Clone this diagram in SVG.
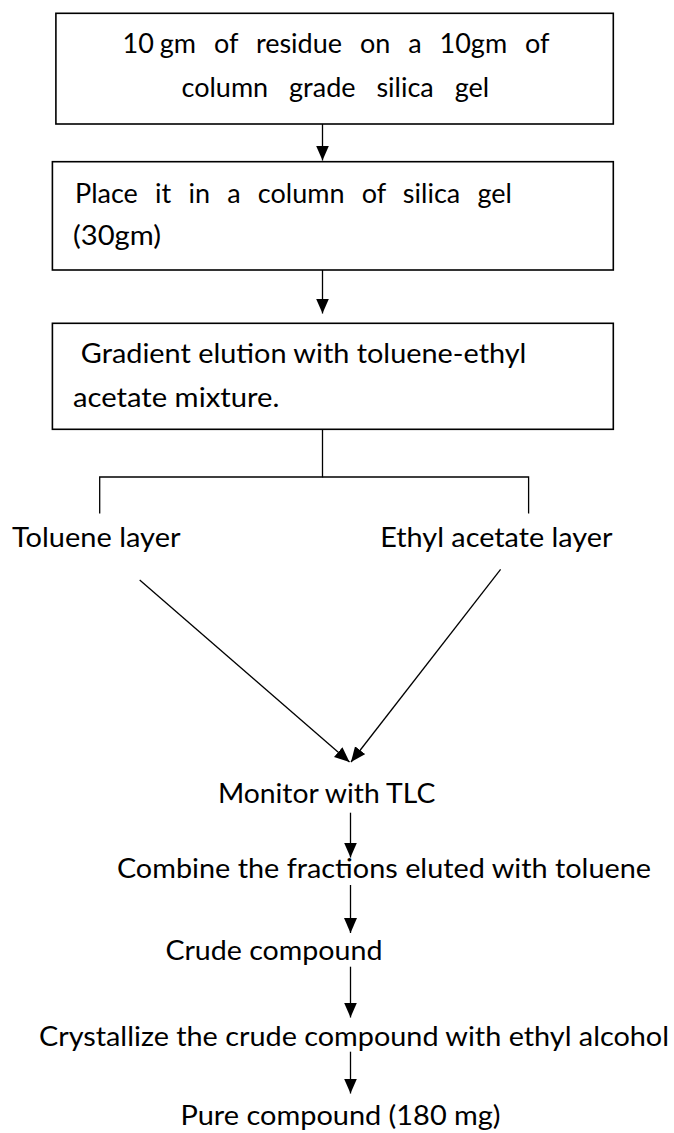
<svg xmlns="http://www.w3.org/2000/svg" width="674" height="1133" viewBox="0 0 674 1133">
<style>
  .box { fill: #ffffff; stroke: #000000; stroke-width: 1.6; }
  .t { font-family: Lato, "Open Sans", "Liberation Sans", sans-serif; font-size: 26px; fill: #000000; }
  .j { font-size: 27px; }
  .ln { stroke: #000000; stroke-width: 1.3; fill: none; }
  .arr { stroke: #000000; stroke-width: 1.3; fill: none; marker-end: url(#ah); }
</style>
<defs>
  <marker id="ah" markerUnits="userSpaceOnUse" markerWidth="16" markerHeight="14" refX="15" refY="6.5" orient="auto">
    <path d="M0,0 L15,6.5 L0,13 z" fill="#000000"/>
  </marker>
</defs>
<rect width="674" height="1133" fill="#ffffff"/>

<g id="connectors">
  <line class="arr" x1="322.5" y1="124" x2="322.5" y2="160.5"/>
  <line class="arr" x1="322.5" y1="270" x2="322.5" y2="313.5"/>
  <polyline class="ln" points="322.5,429.5 322.5,477 99.7,477 99.7,513.5"/>
  <polyline class="ln" points="322.5,477 528.6,477 528.6,513.5"/>
  <line class="arr" x1="139.7" y1="580" x2="349.5" y2="762"/>
  <line class="arr" x1="500.6" y1="569.3" x2="351" y2="762"/>
  <line class="arr" x1="350.5" y1="812.7" x2="350.5" y2="857.5"/>
  <line class="arr" x1="350.5" y1="885" x2="350.5" y2="933"/>
  <line class="arr" x1="350.5" y1="966.7" x2="350.5" y2="1017.5"/>
  <line class="arr" x1="350.5" y1="1051.7" x2="350.5" y2="1093.5"/>
</g>

<g id="box1">
  <rect class="box" x="55.9" y="13.3" width="557.4" height="110.7"/>
  <text class="t j" x="122.5" y="53.3" word-spacing="11">10<tspan dx="6">gm of residue on a 10gm of</tspan></text>
  <text class="t j" x="181.5" y="96.7" word-spacing="14">column grade silica gel</text>
</g>

<g id="box2">
  <rect class="box" x="52.4" y="161.7" width="560.9" height="108.3"/>
  <text class="t j" x="75" y="203.3" word-spacing="10.3">Place it in a column of silica gel</text>
  <text class="t" x="73" y="245" textLength="88" lengthAdjust="spacingAndGlyphs">(30gm)</text>
</g>

<g id="box3">
  <rect class="box" x="52.4" y="323.3" width="560.9" height="106"/>
  <text class="t" x="80.8" y="363.3" textLength="445.6" lengthAdjust="spacingAndGlyphs">Gradient elution with toluene-ethyl</text>
  <text class="t" x="73" y="406.7" textLength="206.3" lengthAdjust="spacingAndGlyphs">acetate mixture.</text>
</g>

<g id="toluene">
  <text class="t" x="12" y="546.7" textLength="168.5" lengthAdjust="spacingAndGlyphs">Toluene layer</text>
</g>

<g id="ethyl">
  <text class="t" x="380.3" y="546.7" textLength="232.1" lengthAdjust="spacingAndGlyphs">Ethyl acetate layer</text>
</g>

<g id="monitor">
  <text class="t" x="217.9" y="802.7" textLength="217.4" lengthAdjust="spacingAndGlyphs">Monitor with TLC</text>
</g>

<g id="combine">
  <text class="t" x="116.9" y="878.3" textLength="534.1" lengthAdjust="spacingAndGlyphs">Combine the fractions eluted with toluene</text>
</g>

<g id="crude">
  <text class="t" x="165.4" y="960" textLength="217.1" lengthAdjust="spacingAndGlyphs">Crude compound</text>
</g>

<g id="crystallize">
  <text class="t" x="39" y="1045.7" textLength="630" lengthAdjust="spacingAndGlyphs">Crystallize the crude compound with ethyl alcohol</text>
</g>

<g id="pure">
  <text class="t" x="180.5" y="1125" textLength="320.1" lengthAdjust="spacingAndGlyphs">Pure compound (180 mg)</text>
</g>
</svg>
